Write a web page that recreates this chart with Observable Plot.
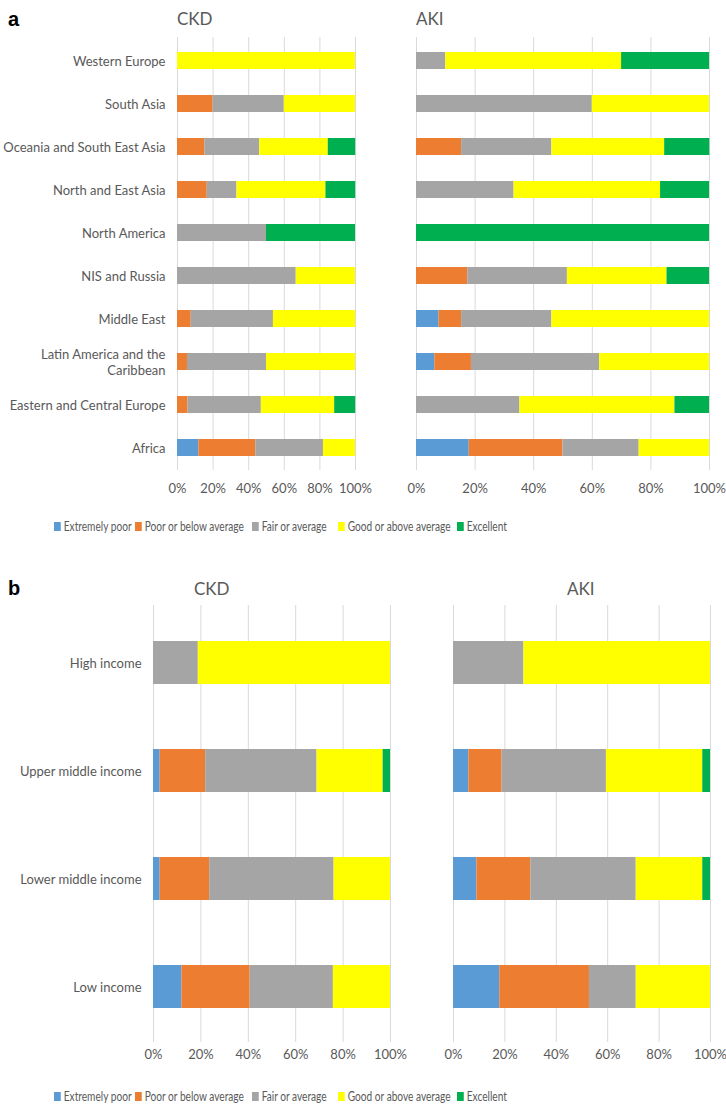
<!DOCTYPE html>
<html><head><meta charset="utf-8">
<script src="https://cdn.jsdelivr.net/npm/d3@7"></script>
<script src="https://cdn.jsdelivr.net/npm/@observablehq/plot@0.6"></script>
<style>
body{margin:0;background:#fff;}
#root{position:relative;width:726px;height:1106px;overflow:hidden;font-family:Lato,sans-serif;color:#595959;}
.abs{position:absolute;}
.plabel{font-family:"Liberation Sans",Arial,sans-serif;font-weight:bold;font-size:20px;color:#000;line-height:1;}
.title{font-size:17px;color:#595959;line-height:1;}
.lg{position:absolute;font-size:13.5px;color:#595959;white-space:nowrap;line-height:1;display:flex;align-items:center;transform:scaleX(0.75);transform-origin:0 50%;}
.lg span.sw{display:inline-block;width:9px;height:9px;margin-right:4px;}
</style></head><body><div id="root"></div>
<script>
// ---- data ----
const levels = ["Extremely poor", "Poor or below average", "Fair or average", "Good or above average", "Excellent"];
const levelColors = ["#5B9BD5", "#ED7D31", "#A5A5A5", "#FFFF00", "#00B050"];
const regions = ["Western Europe", "South Asia", "Oceania and South East Asia", "North and East Asia", "North America", "NIS and Russia", "Middle East", "Latin America and the Caribbean", "Eastern and Central Europe", "Africa"];
const incomes = ["High income", "Upper middle income", "Lower middle income", "Low income"];
const xTicks = [0, 20, 40, 60, 80, 100];
// values per category: [Extremely poor, Poor, Fair, Good, Excellent] (%)
const ckdRegion = [
  [0, 0, 0, 100, 0],
  [0, 20, 40, 40, 0],
  [0, 15.4, 30.8, 38.5, 15.4],
  [0, 16.7, 16.7, 50, 16.7],
  [0, 0, 50, 0, 50],
  [0, 0, 66.7, 33.3, 0],
  [0, 7.7, 46.2, 46.2, 0],
  [0, 5.6, 44.4, 50, 0],
  [0, 5.9, 41.2, 41.2, 11.8],
  [12, 32, 38, 18, 0]
];
const akiRegion = [
  [0, 0, 10, 60, 30],
  [0, 0, 60, 40, 0],
  [0, 15.4, 30.8, 38.5, 15.4],
  [0, 0, 33.3, 50, 16.7],
  [0, 0, 0, 0, 100],
  [0, 17.5, 34, 34, 14.5],
  [7.7, 7.7, 30.8, 53.8, 0],
  [6.25, 12.5, 43.75, 37.5, 0],
  [0, 0, 35.3, 52.9, 11.8],
  [18, 32, 26, 24, 0]
];
const ckdIncome = [
  [0, 0, 18.9, 81.1, 0],
  [2.8, 19.2, 47, 27.9, 3.1],
  [2.8, 20.9, 52.5, 23.8, 0],
  [12, 28.8, 35.1, 24.1, 0]
];
const akiIncome = [
  [0, 0, 27.4, 72.6, 0],
  [6, 12.9, 40.6, 37.5, 3],
  [9.1, 21, 41, 25.9, 3],
  [18, 34.9, 18.2, 28.9, 0]
];

// ---- helpers ----
const root = document.getElementById("root");
function rows(cats, vals) {
  const out = [];
  cats.forEach((c, i) => levels.forEach((l, j) => {
    if (vals[i][j] > 0) out.push({cat: c, level: l, value: vals[i][j]});
  }));
  return out;
}
function place(el, left, top) {
  const d = document.createElement("div");
  d.className = "abs";
  d.style.left = left + "px";
  d.style.top = top + "px";
  d.appendChild(el);
  root.appendChild(d);
}
function addText(txt, cls, left, top) {
  const d = document.createElement("div");
  d.className = "abs " + cls;
  d.style.left = left + "px";
  d.style.top = top + "px";
  d.textContent = txt;
  root.appendChild(d);
}
function panel(o) {
  const marks = [
    Plot.ruleX(xTicks, {stroke: "#d9d9d9", strokeWidth: 1}),
    Plot.barX(rows(o.cats, o.vals), {x: "value", y: "cat", fill: "level"}),
    Plot.axisX({ticks: xTicks, tickSize: 0, tickPadding: o.tickPadX, tickFormat: d => d + "%", label: null, fontSize: 13})
  ];
  if (o.showY) marks.push(Plot.axisY({tickSize: 0, tickPadding: 12, label: null, fontSize: 13, lineHeight: 1.2,
    tickFormat: d => d === "Latin America and the Caribbean" ? "Latin America and the\nCaribbean" : d}));
  const svg = Plot.plot({
    width: o.width, height: o.height,
    marginLeft: o.marginLeft, marginRight: o.marginRight, marginTop: o.marginTop, marginBottom: o.marginBottom,
    style: {fontFamily: "Lato, sans-serif", color: "#595959", background: "transparent", overflow: "visible"},
    x: {domain: [0, 100]},
    y: {domain: o.cats, paddingInner: o.pi, paddingOuter: o.po, range: o.yRange, align: 0.5, axis: o.showY ? undefined : null},
    color: {domain: levels, range: levelColors},
    marks
  });
  place(svg, o.left, o.top);
}
function legend(y) {
  const xs = [54, 135, 252, 338, 457];
  levels.forEach((l, i) => {
    const d = document.createElement("div");
    d.className = "lg";
    d.style.left = xs[i] + "px";
    d.style.top = (y - 7) + "px";
    d.innerHTML = `<span class="sw" style="background:${levelColors[i]}"></span>${l}`;
    root.appendChild(d);
  });
}

// ---- panel a ----
addText("a", "plabel", 8, 9);
addText("CKD", "title", 177, 10);
addText("AKI", "title", 416, 10);
panel({cats: regions, vals: ckdRegion, left: 0, top: 30, width: 360, height: 475,
  marginLeft: 177, marginRight: 5, marginTop: 7, marginBottom: 35, pi: 0.61, po: 0.305, tickPadX: 13, showY: true});
panel({cats: regions, vals: akiRegion, left: 400, top: 30, width: 320, height: 475,
  marginLeft: 16, marginRight: 11, marginTop: 7, marginBottom: 35, pi: 0.61, po: 0.305, tickPadX: 13, showY: false});
legend(527);

// ---- panel b ----
addText("b", "plabel", 8, 578);
addText("CKD", "title", 194, 580);
addText("AKI", "title", 567, 580);
panel({cats: incomes, vals: ckdIncome, left: 0, top: 600, width: 395, height: 475,
  marginLeft: 153, marginRight: 5, marginTop: 5, marginBottom: 33, pi: 0.6, po: 0.3, yRange: [8, 442], tickPadX: 7, showY: true});
panel({cats: incomes, vals: akiIncome, left: 440, top: 600, width: 285, height: 475,
  marginLeft: 13, marginRight: 15, marginTop: 5, marginBottom: 33, pi: 0.6, po: 0.3, yRange: [8, 442], tickPadX: 7, showY: false});
legend(1097);
</script></body></html>
